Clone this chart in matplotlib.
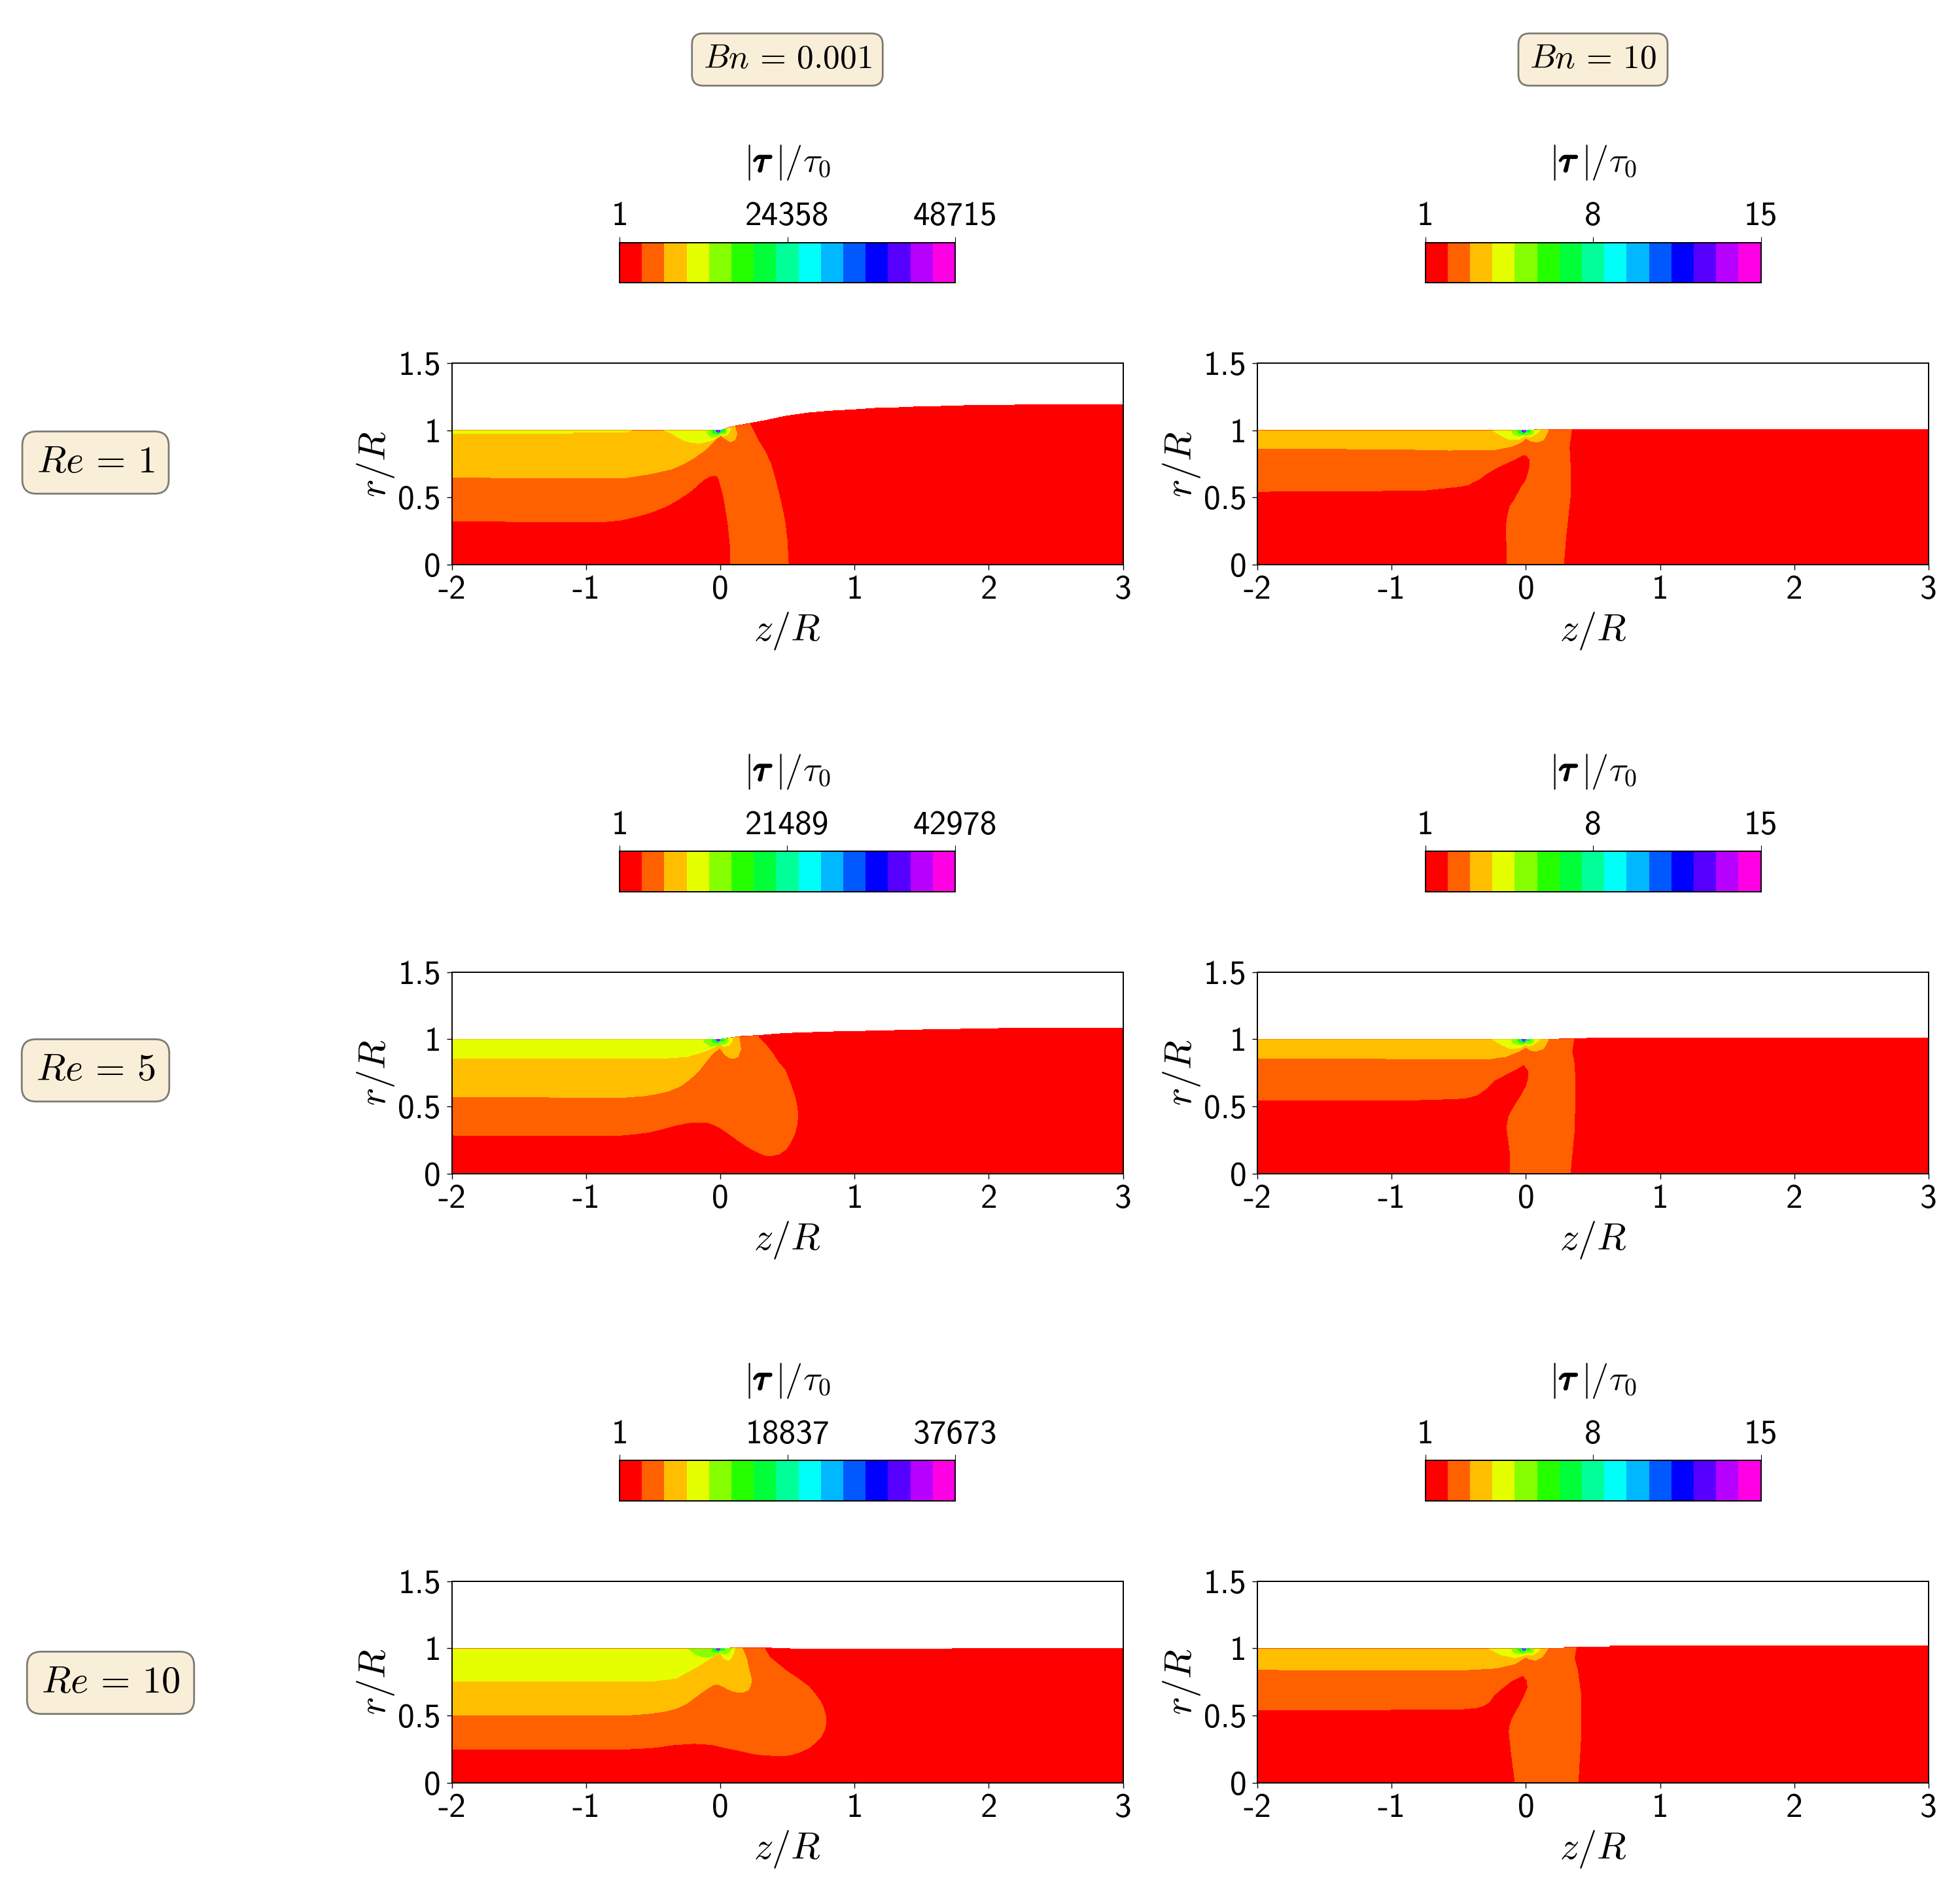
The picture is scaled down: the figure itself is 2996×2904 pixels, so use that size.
import matplotlib
matplotlib.use('Agg')
import matplotlib.pyplot as plt
import matplotlib.patheffects as pe
import numpy as np
from matplotlib.cm import ScalarMappable
from matplotlib.colors import BoundaryNorm, ListedColormap

plt.rcParams['font.family'] = 'cmss10'
plt.rcParams['mathtext.fontset'] = 'cm'
plt.rcParams['axes.formatter.use_mathtext'] = False
plt.rcParams['axes.unicode_minus'] = False

W, H = 2996, 2904

level_colors = ['#ff0000', '#ff6000', '#ffbf00', '#e5ff00', '#86ff00', '#26ff00', '#00ff39', '#00ff99',
                '#00fff9', '#00b8ff', '#0058ff', '#0000ff', '#5800ff', '#b800ff', '#ff00e5']

x_ticks = [-2, -1, 0, 1, 2, 3]
x_tick_labels = ['-2', '-1', '0', '1', '2', '3']
y_ticks = [0, 0.5, 1, 1.5]
y_tick_labels = ['0', '0.5', '1', '1.5']

re_labels = [r'$Re\,=\,1$', r'$Re\,=\,5$', r'$Re\,=\,10$']
bn_labels = [r'$Bn\,=\,0.001$', r'$Bn\,=\,10$']

cbar_ticks = [[1, 24358, 48715], [1, 8, 15], [1, 21489, 42978], [1, 8, 15], [1, 18837, 37673], [1, 8, 15]]

# free surface and level boundaries as (z, r)
# Re=1, Bn=0.001
a_surf_z = [-2, 0, .09, .222, .352, .48, .66, .83, 1.0, 1.17, 1.343, 1.51, 1.685, 1.86, 2.37, 3]
a_surf_r = [1, 1, 1.028, 1.052, 1.076, 1.104, 1.13, 1.144, 1.153, 1.165, 1.169, 1.177, 1.179, 1.185, 1.19, 1.19]
a_l1_z = [-2, -1.22, -.88, -.742, -.606, -.502, -.40, -.314, -.23, -.178, -.127, -.085, -.042, -.017, -.008, .02, .038, .06, .068, .078, .078,
          .508, .499, .482, .455, .42, .379, .335, .284, .222]
a_l1_r = [.325, .318, .318, .331, .362, .394, .435, .484, .54, .584, .63, .654, .666, .654, .63, .532, .435, .29, .208, .11, 0,
          0, .175, .321, .451, .597, .744, .841, .922, 1.044]
a_l2_z = [-2, -1.56, -.708, -.524, -.362, -.281, -.2, -.159, -.119, -.078, -.037, .003, .036, .076, .109, .125, .109]
a_l2_r = [.651, .646, .646, .675, .711, .747, .792, .821, .849, .889, .93, .963, .938, .914, .93, .971, 1.028]
a_l3a_z = [-2, -1.1, -1.1, -.7, -.66]
a_l3a_r = [.977, .977, .985, .985, 1.0]
a_l3_z = [-.422, -.362, -.313, -.265, -.208, -.151, -.07, .003, .028, .057, .076, .068]
a_l3_r = [1.0, .979, .946, .922, .909, .903, .922, .963, .958, .971, 1.003, 1.024]
a_l4_z = [-.102, -.094, -.062, -.021, .003, .036, .049, .047, .028]
a_l4_r = [1, .971, .946, .955, .971, .971, .987, 1.011, 1.02]

# Re=1, Bn=10
b_surf_z = [-2, 0, .12, 3]
b_surf_r = [1, 1, 1.006, 1.006]
b_l1_z = [-2, -1.159, -.743, -.5, -.43, -.396, -.344, -.291, -.222, -.153, -.083, -.031, -.021, .003, .028, .031, .021, .003, -.031, -.083, -.118, -.135, -.146, -.139,
          .281, .298, .333, .333, .323, .34]
b_l1_r = [.545, .549, .555, .581, .594, .614, .638, .679, .719, .752, .784, .812, .815, .817, .784, .744, .695, .63, .581, .484, .435, .37, .289, 0,
          0, .208, .532, .695, .873, 1.0]
b_l2_z = [-2, -1.332, -.812, -.569, -.222, -.101, -.031, -.003, .038, .09, .132, .167, .16]
b_l2_r = [.865, .862, .857, .852, .857, .881, .914, .942, .919, .912, .93, .995, 1.01]
bn10_l3_z = [-.248, -.19, -.119, -.045, -.005, .03, .06, .093, .109]
bn10_l3_r = [1, .963, .93, .935, .958, .95, .963, .987, 1.003]
bn10_l4_z = [-.11, -.094, -.054, -.013, .019, .052, .06, .044]
bn10_l4_r = [1, .971, .958, .963, .963, .971, .995, 1.006]

# Re=5, Bn=0.001
c_surf_z = [-2, 0, .147, .284, .489, .83, 1.17, 1.51, 2.09, 3]
c_surf_r = [1, 1, 1.021, 1.028, 1.044, 1.055, 1.062, 1.07, 1.08, 1.08]
c_l1_z = [-2, -1.374, -.776, -.639, -.537, -.434, -.332, -.246, -.195, -.092, -.041, .01, .079, .147, .215, .284, .335, .369, .437, .489, .523, .557, .574, .578, .574, .557, .53, .482, .437, .386, .352, .287]
c_l1_r = [.286, .281, .282, .294, .307, .331, .359, .377, .383, .38, .362, .334, .286, .237, .193, .156, .136, .131, .144, .18, .229, .302, .375, .44, .489, .57, .651, .773, .821, .90, .943, 1.01]
c_l2_z = [-2, -1.22, -.707, -.571, -.468, -.383, -.297, -.229, -.16, -.109, -.058, 0, .028, .06, .1, .133, .153, .144, .133]
c_l2_r = [.573, .568, .568, .578, .594, .615, .651, .70, .765, .83, .894, .935, .894, .865, .857, .87, .927, 1.0, 1.016]
c_l3_z = [-2, -.40, -.248, -.135, -.054, 0, .028, .06, .089, .089]
c_l3_r = [.86, .859, .87, .903, .935, .963, .946, .951, .984, 1.011]
c_l4_z = [-.127, -.115, -.067, -.013, .011, .044, .06, .052]
c_l4_r = [1, .976, .946, .956, .959, .968, .992, 1.008]

# Re=5, Bn=10
d_surf_z = [-2, .1, .35, .45, .46, 3]
d_surf_r = [1, 1, 1.003, 1.003, 1.011, 1.011]
d_l1_z = [-2, -.743, -.465, -.413, -.361, -.291, -.239, -.205, -.118, -.066, -.014, .021, .021, .003, -.031, -.083, -.108, -.128, -.142, -.118, -.115,
          .33, .361, .368, .361, .343, .357]
d_l1_r = [.545, .549, .56, .57, .586, .635, .692, .708, .756, .781, .813, .765, .716, .651, .586, .505, .464, .424, .343, .164, 0,
          0, .326, .651, .813, .911, 1.0]
d_l2_z = [-2, -1.15, -.673, -.291, -.153, -.049, -.003, .038, .073, .132, .167, .16]
d_l2_r = [.86, .857, .851, .851, .87, .911, .94, .917, .911, .93, .992, 1.01]

# Re=10, Bn=0.001
e_surf_z = [-2, 0, .1, .22, .5, .53, 1.72, 1.73, 3]
e_surf_r = [.997, .997, 1.002, 1.002, 1.0, .993, .993, .997, .997]
e_l1_z = [-2, -.776, -.605, -.537, -.468, -.366, -.195, -.058, .044, .147, .249, .318, .455, .523, .592, .66, .711, .755, .779, .789, .786, .769, .745, .701, .66, .574, .489, .42, .369, .335]
e_l1_r = [.247, .247, .253, .258, .263, .279, .291, .282, .258, .237, .214, .205, .198, .205, .226, .258, .299, .347, .396, .445, .494, .558, .607, .664, .713, .778, .834, .891, .932, .989]
e_l2_z = [-2, -.707, -.537, -.434, -.332, -.246, -.16, -.109, -.058, -.024, .027, .062, .113, .164, .208, .229, .232, .208, .198, .174, .164]
e_l2_r = [.5, .5, .513, .526, .55, .591, .656, .692, .724, .734, .713, .693, .675, .67, .688, .729, .769, .867, .916, .98, .997]
e_l3_z = [-2, -.492, -.33, -.167, -.054, 0, .028, .06, .084, .1, .109]
e_l3_r = [.753, .756, .776, .865, .938, .966, .922, .909, .93, .963, .995]
e_l4_z = [-.245, -.183, -.127, -.062, 0, .028, .068, .08]
e_l4_r = [1, .955, .933, .938, .966, .955, .971, .995]

# Re=10, Bn=10
f_surf_z = [-2, .1, .28, .29, .62, .63, 3]
f_surf_r = [.997, .997, 1.0, 1.008, 1.008, 1.016, 1.016]
f_l1_z = [-2, -.5, -.361, -.309, -.274, -.239, -.187, -.153, -.101, -.066, -.021, .01, .014, -.014, -.055, -.101, -.118, -.125, -.108, -.08,
          .389, .409, .409, .385, .361, .375]
f_l1_r = [.541, .544, .558, .575, .599, .648, .696, .721, .761, .778, .797, .761, .705, .64, .558, .477, .429, .38, .218, 0,
          0, .331, .656, .834, .924, 1.005]
f_l2_z = [-2, -1.142, -.465, -.222, -.083, -.003, .038, .073, .118, .16, .167]
f_l2_r = [.841, .836, .838, .851, .883, .932, .916, .911, .932, .989, 1.005]
f_l3_z = [-.274, -.187, -.083, -.003, .055, .09, .108]
f_l3_r = [.997, .951, .929, .948, .951, .972, 1.0]

# the small high stress spot at the die exit, about the same in every panel
tip_levels = [5, 6, 7, 8, 10, 11, 13, 14]
tip_z = [[-.065, -.054, -.021, .003, .028, .036, .024],
         [-.05, -.042, -.02, .0, .02, .026, .018],
         [-.038, -.032, -.015, .003, .012, .006],
         [-.032, -.027, -.013, .0, .008, .004],
         [-.03, -.025, -.013, -.002, .003],
         [-.028, -.024, -.013, -.003, -.001],
         [-.024, -.02, -.013, -.006, -.004],
         [-.02, -.017, -.012, -.007, -.006]]
tip_r = [[1, .979, .971, .984, .984, 1, 1.013],
         [1, .983, .977, .987, .989, 1, 1.01],
         [1, .987, .982, .99, 1, 1.01],
         [1, .989, .984, .991, 1, 1.01],
         [1, .99, .985, .992, 1.01],
         [1, .99, .987, .992, 1.01],
         [1, .992, .989, .992, 1.01],
         [1, .994, .991, .994, 1.01]]

panels = [
    (a_surf_z, a_surf_r, [(1, a_l1_z, a_l1_r), (2, a_l2_z, a_l2_r), (3, a_l3a_z, a_l3a_r), (3, a_l3_z, a_l3_r), (4, a_l4_z, a_l4_r)]),
    (b_surf_z, b_surf_r, [(1, b_l1_z, b_l1_r), (2, b_l2_z, b_l2_r), (3, bn10_l3_z, bn10_l3_r), (4, bn10_l4_z, bn10_l4_r)]),
    (c_surf_z, c_surf_r, [(1, c_l1_z, c_l1_r), (2, c_l2_z, c_l2_r), (3, c_l3_z, c_l3_r), (4, c_l4_z, c_l4_r)]),
    (d_surf_z, d_surf_r, [(1, d_l1_z, d_l1_r), (2, d_l2_z, d_l2_r), (3, bn10_l3_z, bn10_l3_r), (4, bn10_l4_z, bn10_l4_r)]),
    (e_surf_z, e_surf_r, [(1, e_l1_z, e_l1_r), (2, e_l2_z, e_l2_r), (3, e_l3_z, e_l3_r), (4, e_l4_z, e_l4_r)]),
    (f_surf_z, f_surf_r, [(1, f_l1_z, f_l1_r), (2, f_l2_z, f_l2_r), (3, f_l3_z, f_l3_r), (4, bn10_l4_z, bn10_l4_r)]),
]

col_left = [690.5, 1922]
row_top = [555, 1485.7, 2416.5]
ax_w = 1026
ax_h = 308
cb_w = 513
cb_h = 61.3


def box(x, y, w, h):
    # pixel box, measured from the top left, to figure fractions
    return [x / W, 1 - (y + h) / H, w / W, h / H]


def fill_level(ax, z, r, level, clip):
    # the boundary is closed above the free surface and clipped to the fluid
    poly = ax.fill(z + [z[-1], z[0]], r + [1.4, 1.4], facecolor=level_colors[level], edgecolor='none',
                   linewidth=0, antialiased=False)[0]
    poly.set_clip_path(clip)


def tau_label(fig, cx, y):
    renderer = fig.canvas.get_renderer()
    bold = [pe.withStroke(linewidth=2.2, foreground='black')]
    parts = [('$|$', None), (r'$\tau$', bold), (r'$|/\tau_0$', None)]
    texts = []
    widths = []
    for s, effects in parts:
        t = fig.text(0, 1 - y / H, s, fontsize=39, ha='left', va='baseline')
        if effects:
            t.set_path_effects(effects)
        texts.append(t)
        widths.append(t.get_window_extent(renderer).width + 4)
    x = cx - sum(widths) / 2 + 2
    for t, w in zip(texts, widths):
        t.set_x(x / W)
        x += w


fig = plt.figure(figsize=(W / 100, H / 100), dpi=100)
cmap = ListedColormap(level_colors)

for i, (surf_z, surf_r, levels) in enumerate(panels):
    row, col = divmod(i, 2)
    left = col_left[col]
    top = row_top[row]

    ax = fig.add_axes(box(left, top, ax_w, ax_h))
    fluid = ax.fill(surf_z + [3, -2], surf_r + [0, 0], facecolor=level_colors[0], edgecolor='none',
                    linewidth=0, antialiased=False)[0]
    for level, z, r in levels:
        fill_level(ax, z, r, level, fluid)
    for level, z, r in zip(tip_levels, tip_z, tip_r):
        fill_level(ax, z, r, level, fluid)

    ax.set_xlim(-2, 3)
    ax.set_ylim(0, 1.5)
    ax.set_xticks(x_ticks)
    ax.set_xticklabels(x_tick_labels)
    ax.set_yticks(y_ticks)
    ax.set_yticklabels(y_tick_labels)
    ax.tick_params(labelsize=37, length=5.8, width=1, pad=6)
    for s in ax.spines.values():
        s.set_linewidth(1.4)
    ax.set_xlabel('$z/R$', fontsize=42, va='center')
    ax.xaxis.set_label_coords(0.5, -0.33)
    ax.set_ylabel('$r/R$', fontsize=42, va='center')
    ax.yaxis.set_label_coords(-0.1126, 0.5)

    # colour bar above the panel
    ticks = cbar_ticks[i]
    cax = fig.add_axes(box(left + (ax_w - cb_w) / 2, top - 184.3, cb_w, cb_h))
    norm = BoundaryNorm(np.linspace(ticks[0], ticks[-1], 16), 15)
    cb = fig.colorbar(ScalarMappable(norm=norm, cmap=cmap), cax=cax, orientation='horizontal',
                      spacing='proportional', ticks=ticks)
    cb.ax.xaxis.set_ticks_position('top')
    cb.ax.xaxis.set_label_position('top')
    cb.ax.set_xticklabels([str(t) for t in ticks])
    cb.ax.minorticks_off()
    cb.ax.tick_params(labelsize=37, length=6.2, width=0.8, pad=5.5)
    cb.outline.set_linewidth(1.4)

    tau_label(fig, left + ax_w / 2, top - 293)

bn_box = dict(boxstyle='round,pad=0.33', facecolor='wheat', alpha=0.5, linewidth=2)
for col, label in enumerate(bn_labels):
    fig.text((col_left[col] + ax_w / 2) / W, 1 - 91 / H, label, fontsize=37, ha='center', va='center', bbox=bn_box)

re_x = [146, 146, 169]
re_y = [707, 1636, 2572]
re_box = dict(boxstyle='round,pad=0.37', facecolor='wheat', alpha=0.5, linewidth=2)
for row, label in enumerate(re_labels):
    fig.text(re_x[row] / W, 1 - re_y[row] / H, label, fontsize=42, ha='center', va='center', bbox=re_box)

fig.savefig('out.png', dpi=100)
